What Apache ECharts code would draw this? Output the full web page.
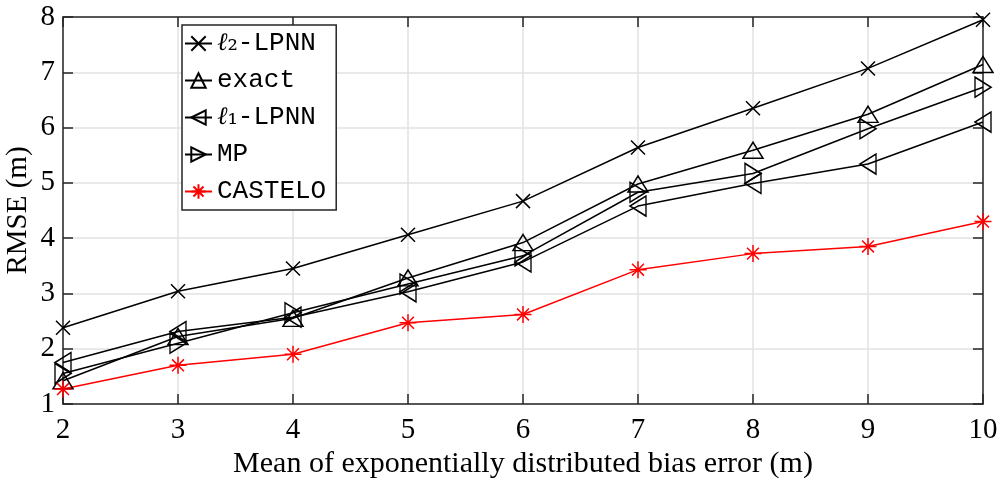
<!DOCTYPE html>
<html>
<head>
<meta charset="utf-8" />
<title>RMSE vs bias error</title>
<script src="https://cdn.jsdelivr.net/npm/echarts@6/dist/echarts.min.js"></script>
<style>
html,body{margin:0;padding:0;background:#fff}
#main{width:1003px;height:484px}
</style>
</head>
<body>
<div id="main"></div>
<script>
// mean of bias error (x) and RMSE for each method
var xVals = [2, 3, 4, 5, 6, 7, 8, 9, 10];
var l2Lpnn = [2.38, 3.04, 3.45, 4.06, 4.67, 5.64, 6.35, 7.07, 7.95];
var exact = [1.42, 2.22, 2.55, 3.28, 3.92, 4.98, 5.59, 6.24, 7.14];
var l1Lpnn = [1.75, 2.31, 2.57, 3.03, 3.57, 4.58, 4.99, 5.34, 6.10];
var mp = [1.55, 2.10, 2.65, 3.17, 3.68, 4.83, 5.17, 5.98, 6.73];
var castelo = [1.27, 1.70, 1.90, 2.47, 2.62, 3.43, 3.72, 3.85, 4.30];

var names = ['l2-LPNN', 'exact', 'l1-LPNN', 'MP', 'CASTELO'];

var axisCol = '#262626';
var serif = '"Liberation Serif", "Times New Roman", serif';
var mono = '"Liberation Mono", "DejaVu Sans Mono", monospace';

// marker shapes (MATLAB style, hollow)
var symX = 'path://M0,0L10,10M10,0L0,10';
var symUp = 'path://M5,0L10,9L0,9Z';
var symLeft = 'path://M0,5L9,0L9,10Z';
var symRight = 'path://M9,5L0,0L0,10Z';
var symStar = 'path://M5,0L5,10M0,5L10,5M1.5,1.5L8.5,8.5M8.5,1.5L1.5,8.5';

function pairs(ys) {
  return xVals.map(function (x, i) { return [x, ys[i]]; });
}

function mkSeries(name, ys, sym, size, col) {
  return {
    name: name,
    type: 'line',
    data: pairs(ys),
    symbol: sym,
    symbolSize: size,
    showAllSymbol: true,
    lineStyle: { color: col, width: 1.5 },
    itemStyle: { color: 'rgba(0,0,0,0)', borderColor: col, borderWidth: 1.5 },
    emphasis: { disabled: true },
    animation: false
  };
}

var chart = echarts.init(document.getElementById('main'));

var xBase = {
  type: 'value', min: 2, max: 10, interval: 1,
  axisLine: { show: true, onZero: false, lineStyle: { color: axisCol, width: 1.5 } },
  axisTick: { show: true, inside: true, length: 10, lineStyle: { color: axisCol, width: 1.5 } }
};
var yBase = {
  type: 'value', min: 1, max: 8, interval: 1,
  axisLine: { show: true, onZero: false, lineStyle: { color: axisCol, width: 1.5 } },
  axisTick: { show: true, inside: true, length: 10, lineStyle: { color: axisCol, width: 1.5 } }
};

var option = {
  backgroundColor: '#fff',
  animation: false,
  grid: { left: 63, right: 20, top: 17, bottom: 80, containLabel: false, outerBoundsMode: 'none' },
  xAxis: [
    Object.assign({}, xBase, {
      position: 'bottom',
      name: 'Mean of exponentially distributed bias error (m)',
      nameLocation: 'middle', nameGap: 45, nameMoveOverlap: false,
      nameTextStyle: { fontFamily: serif, fontSize: 30, color: '#000' },
      axisLabel: { fontFamily: serif, fontSize: 29, color: '#000', margin: 12 },
      splitLine: { show: true, lineStyle: { color: '#e2e2e2', width: 1.5 } }
    }),
    Object.assign({}, xBase, {
      position: 'top',
      axisLabel: { show: false },
      splitLine: { show: false }
    })
  ],
  yAxis: [
    Object.assign({}, yBase, {
      position: 'left',
      name: 'RMSE (m)',
      nameLocation: 'middle', nameGap: 30, nameMoveOverlap: false,
      nameTextStyle: { fontFamily: serif, fontSize: 29, color: '#000' },
      axisLabel: { fontFamily: serif, fontSize: 29, color: '#000', margin: 8 },
      splitLine: { show: true, lineStyle: { color: '#e2e2e2', width: 1.5 } }
    }),
    Object.assign({}, yBase, {
      position: 'right',
      axisLabel: { show: false },
      splitLine: { show: false }
    })
  ],
  legend: {
    orient: 'vertical',
    left: 182, top: 25,
    data: names,
    backgroundColor: '#fff',
    borderColor: axisCol, borderWidth: 1.5, borderRadius: 0,
    padding: [5, 10, 5, 2],
    itemGap: 10,
    itemWidth: 27, itemHeight: 18,
    itemTextGap: 1,
    selectedMode: false,
    textStyle: {
      fontFamily: mono, fontSize: 26, color: '#000', lineHeight: 27,
      rich: {
        l: { fontFamily: '"DejaVu Serif", serif', fontStyle: 'italic', fontSize: 25, color: '#000' },
        s: { fontFamily: '"DejaVu Serif", serif', fontSize: 26, color: '#000' },
        t: { fontFamily: mono, fontSize: 26, color: '#000' }
      }
    },
    formatter: function (n) {
      if (n === 'l2-LPNN') return '{l|ℓ}{s|₂}{t|-LPNN}';
      if (n === 'l1-LPNN') return '{l|ℓ}{s|₁}{t|-LPNN}';
      return '{t|' + n + '}';
    }
  },
  series: [
    mkSeries('l2-LPNN', l2Lpnn, symX, 14, '#000'),
    mkSeries('exact', exact, symUp, [20, 16], '#000'),
    mkSeries('l1-LPNN', l1Lpnn, symLeft, [16, 20], '#000'),
    mkSeries('MP', mp, symRight, [16, 20], '#000'),
    mkSeries('CASTELO', castelo, symStar, 17, '#ff0000')
  ]
};

chart.setOption(option);
</script>
</body>
</html>
